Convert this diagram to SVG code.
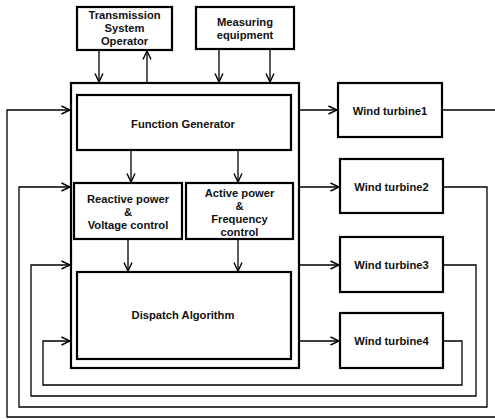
<svg xmlns="http://www.w3.org/2000/svg" width="495" height="420" viewBox="0 0 495 420">
  <style>
    .box { fill: #ffffff; stroke: #000000; stroke-width: 2.2; }
    .lbl { font-family: "Liberation Sans", Arial, sans-serif; font-weight: bold; font-size: 11.2px; fill: #111111; text-anchor: middle; dominant-baseline: central; }
    .wire { fill: none; stroke: #000000; stroke-width: 1.3; }
    .arr { marker-end: url(#chev); }
  </style>
  <defs>
    <marker id="chev" viewBox="0 0 10 10" refX="9.5" refY="5" markerWidth="10" markerHeight="10" markerUnits="userSpaceOnUse" orient="auto">
      <path d="M1,1 L9.5,5 L1,9" fill="none" stroke="#000000" stroke-width="1.4"/>
    </marker>
  </defs>

  <rect width="495" height="420" fill="#ffffff"/>

  <!-- controller enclosure -->
  <g id="controller">
    <rect class="box" x="71" y="83" width="228" height="285"/>
  </g>

  <g id="tso">
    <rect class="box" x="77" y="7" width="95" height="43"/>
    <text class="lbl" x="124.5" y="15">Transmission</text>
    <text class="lbl" x="124.5" y="28">System</text>
    <text class="lbl" x="124.5" y="41">Operator</text>
  </g>

  <g id="measuring">
    <rect class="box" x="196" y="7" width="98" height="42"/>
    <text class="lbl" x="245" y="21.5">Measuring</text>
    <text class="lbl" x="245" y="34.5">equipment</text>
  </g>

  <g id="function-generator">
    <rect class="box" x="77" y="95" width="214" height="55"/>
    <text class="lbl" x="183" y="124">Function Generator</text>
  </g>

  <g id="reactive">
    <rect class="box" x="74" y="183" width="108" height="56"/>
    <text class="lbl" x="128" y="199">Reactive power</text>
    <text class="lbl" x="128" y="212">&amp;</text>
    <text class="lbl" x="128" y="225">Voltage control</text>
  </g>

  <g id="active">
    <rect class="box" x="186" y="183" width="107" height="56"/>
    <text class="lbl" x="239.5" y="192.5">Active power</text>
    <text class="lbl" x="239.5" y="205.5">&amp;</text>
    <text class="lbl" x="239.5" y="218.5">Frequency</text>
    <text class="lbl" x="239.5" y="231.5">control</text>
  </g>

  <g id="dispatch">
    <rect class="box" x="77" y="272" width="214" height="87"/>
    <text class="lbl" x="183" y="315">Dispatch Algorithm</text>
  </g>

  <g id="wt1">
    <rect class="box" x="338" y="83" width="104" height="54"/>
    <text class="lbl" x="390" y="111">Wind turbine1</text>
  </g>
  <g id="wt2">
    <rect class="box" x="340" y="159" width="103" height="54"/>
    <text class="lbl" x="391.5" y="187">Wind turbine2</text>
  </g>
  <g id="wt3">
    <rect class="box" x="340" y="237" width="103" height="55"/>
    <text class="lbl" x="391.5" y="265">Wind turbine3</text>
  </g>
  <g id="wt4">
    <rect class="box" x="340" y="313" width="103" height="55"/>
    <text class="lbl" x="391.5" y="341">Wind turbine4</text>
  </g>

  <g id="connectors">
    <!-- top inputs / outputs -->
    <path class="wire arr" d="M99,50 V82"/>
    <path class="wire arr" d="M147,83 V51"/>
    <path class="wire arr" d="M219,49 V82"/>
    <path class="wire arr" d="M270,49 V82"/>
    <!-- internal flow -->
    <path class="wire arr" d="M131,150 V182"/>
    <path class="wire arr" d="M238,150 V182"/>
    <path class="wire arr" d="M128,239 V271"/>
    <path class="wire arr" d="M238,239 V271"/>
    <!-- setpoints to turbines -->
    <path class="wire arr" d="M299,110 H337"/>
    <path class="wire arr" d="M299,187 H339"/>
    <path class="wire arr" d="M299,265 H339"/>
    <path class="wire arr" d="M299,341 H339"/>
    <!-- turbine feedback loops -->
    <path class="wire arr" d="M442,110 H500 V417 H7 V110 H70"/>
    <path class="wire arr" d="M443,187 H487 V407 H19 V187 H70"/>
    <path class="wire arr" d="M443,265 H476 V396 H31 V265 H70"/>
    <path class="wire arr" d="M443,341 H462 V385 H43 V341 H70"/>
  </g>
</svg>
